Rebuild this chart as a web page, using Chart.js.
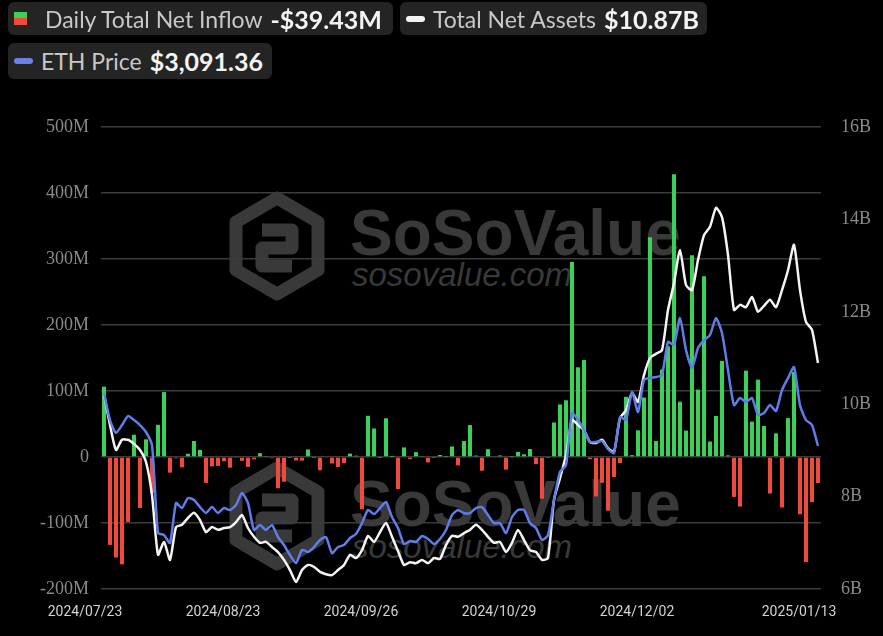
<!DOCTYPE html>
<html>
<head>
<meta charset="utf-8">
<script src="https://cdn.jsdelivr.net/npm/chart.js@4.4.1/dist/chart.umd.min.js"></script>
<style>
  html, body { margin: 0; padding: 0; background: #000; }
  #wrap { position: relative; width: 883px; height: 636px; overflow: hidden; background: #000; font-family: Lato, "Open Sans", sans-serif; }
  #chart { position: absolute; left: 0; top: 0; }
  .pill { position: absolute; background: #242424; border-radius: 6px; display: flex; align-items: center; color: #c8c8c8; font-size: 23px; white-space: nowrap; }
  .pill b { color: #f4f4f4; font-size: 25px; margin-left: 8px; }
  .sq { width: 13px; height: 13px; margin: 0 18px 0 6px; background: linear-gradient(#3ecf5b 50%, #ee4b3f 50%); }
  .ln { width: 19px; height: 6px; border-radius: 3px; margin: 0 8px 0 6px; }
  .wm { position: absolute; color: #393939; white-space: nowrap; }
  .wm1 { font-family: "Liberation Sans", Arial, sans-serif; font-weight: bold; font-size: 64px; }
  .wm2 { font-family: "Liberation Sans", Arial, sans-serif; font-style: italic; font-size: 33px; }
</style>
</head>
<body>
<div id="wrap">
  <!-- watermarks sit under the chart canvas -->
  <svg style="position:absolute;left:0;top:0" width="883" height="636">
    <g fill="none" stroke="#393939" stroke-width="13" stroke-linejoin="round">
      <path d="M277 198 L318 222 L318 270 L277 294 L236 270 L236 222 Z"/>
      <path d="M262 230 L292 230 L292 248 L262 248 L262 266 L292 266"/>
      <path d="M277 468 L318 492 L318 540 L277 564 L236 540 L236 492 Z"/>
      <path d="M262 500 L292 500 L292 518 L262 518 L262 536 L292 536"/>
    </g>
  </svg>
  <div class="wm wm1" style="left:350px;top:196px">SoSoValue</div>
  <div class="wm wm2" style="left:352px;top:256px">sosovalue.com</div>
  <div class="wm wm1" style="left:350px;top:467px">SoSoValue</div>
  <div class="wm wm2" style="left:352px;top:528px">sosovalue.com</div>

  <canvas id="chart" width="883" height="636"></canvas>

  <div class="pill" style="left:8px;top:2px;width:385px;height:33px">
    <span class="sq"></span>Daily Total Net Inflow<b>-$39.43M</b>
  </div>
  <div class="pill" style="left:400px;top:2px;width:307px;height:33px">
    <span class="ln" style="background:#f2f2f2"></span>Total Net Assets<b>$10.87B</b>
  </div>
  <div class="pill" style="left:8px;top:43px;width:264px;height:36px">
    <span class="ln" style="background:#6a82e6"></span>ETH Price<b>$3,091.36</b>
  </div>
</div>

<script>
// trading days shown on the x axis
const dates = [
  "2024/07/23","2024/07/24","2024/07/25","2024/07/26","2024/07/29","2024/07/30","2024/07/31",
  "2024/08/01","2024/08/02","2024/08/05","2024/08/06","2024/08/07","2024/08/08","2024/08/09","2024/08/12","2024/08/13",
  "2024/08/14","2024/08/15","2024/08/16","2024/08/19","2024/08/20","2024/08/21","2024/08/22","2024/08/23","2024/08/26",
  "2024/08/27","2024/08/28","2024/08/29","2024/08/30",
  "2024/09/03","2024/09/04","2024/09/05","2024/09/06","2024/09/09","2024/09/10","2024/09/11","2024/09/12","2024/09/13",
  "2024/09/16","2024/09/17","2024/09/18","2024/09/19","2024/09/20","2024/09/23","2024/09/24","2024/09/25","2024/09/26",
  "2024/09/27","2024/09/30",
  "2024/10/01","2024/10/02","2024/10/03","2024/10/04","2024/10/07","2024/10/08","2024/10/09","2024/10/10","2024/10/11",
  "2024/10/14","2024/10/15","2024/10/16","2024/10/17","2024/10/18","2024/10/21","2024/10/22","2024/10/23","2024/10/24",
  "2024/10/25","2024/10/28","2024/10/29","2024/10/30","2024/10/31",
  "2024/11/01","2024/11/04","2024/11/05","2024/11/06","2024/11/07","2024/11/08","2024/11/11","2024/11/12","2024/11/13",
  "2024/11/14","2024/11/15","2024/11/18","2024/11/19","2024/11/20","2024/11/21","2024/11/22","2024/11/25","2024/11/26",
  "2024/11/27","2024/11/29",
  "2024/12/02","2024/12/03","2024/12/04","2024/12/05","2024/12/06","2024/12/09","2024/12/10","2024/12/11","2024/12/12",
  "2024/12/13","2024/12/16","2024/12/17","2024/12/18","2024/12/19","2024/12/20","2024/12/23","2024/12/24","2024/12/26",
  "2024/12/27","2024/12/30","2024/12/31",
  "2025/01/02","2025/01/03","2025/01/06","2025/01/07","2025/01/08","2025/01/10","2025/01/13"
];
const shownDates = ["2024/07/23", "2024/08/23", "2024/09/26", "2024/10/29", "2024/12/02", "2025/01/13"];

// daily total net inflow, million USD
const netInflow = [
  106.6, -133.2, -152.3, -162.7, -98.3, 33.7, -77.2,
  26.7, -54.3, 48.8, 98.4, -23.7, -2.0, -15.7, 4.9, 24.3, 10.8, -39.2, -14.2, -13.5, -6.5, -16.1, -0.9, -5.8, -15.0,
  -3.5, 5.8, 1.5, -1.8,
  -47.4, -37.5, -0.2, -5.2, -5.5, 11.4, -0.1, -20.1, 1.1, -9.8, -15.1, -9.3, 5.2, 2.0, -79.3, 62.5, 43.2, -0.1, 58.7, 0.1,
  -48.6, 14.5, -3.2, 7.4, 0.9, -8.2, -0.3, 3.0, 0.5, 16.0, -12.7, 24.2, 48.4, 2.1, -20.8, 11.9, 1.1, 2.3, -19.2, 0.5,
  7.6, 4.1, 12.1,
  -10.9, -63.2, -0.4, 52.3, 79.7, 85.9, 295.5, 135.9, 146.9, -3.2, -59.8, -39.1, -81.3, -30.2, -9.2, 91.2, 2.8, 40.4,
  90.1, 332.9,
  24.2, 132.6, 167.7, 428.4, 83.8, 40.0, 305.7, 102.1, 273.7, 23.5, 62.1, 145.7, 2.5, -60.5, -75.1, 130.8, 53.6, 117.2,
  47.0, -55.4, 35.9,
  -76.4, 58.9, 128.7, -86.8, -159.4, -68.4, -39.4
];

// total net assets, billion USD
const totalNetAssets = [
  10.22, 9.55, 9.01, 9.23, 9.23, 9.14, 9.01,
  8.75, 8.03, 6.74, 7.02, 6.63, 7.34, 7.39, 7.54, 7.65, 7.49, 7.23, 7.34, 7.28, 7.32, 7.34, 7.45, 7.60, 7.32,
  7.13, 7.00, 7.02, 6.91,
  6.80, 6.63, 6.41, 6.15, 6.41, 6.52, 6.48, 6.37, 6.32, 6.30, 6.41, 6.52, 6.74, 6.67, 6.84, 7.15, 7.02, 7.23, 7.43, 7.13,
  6.82, 6.52, 6.58, 6.56, 6.63, 6.56, 6.67, 6.65, 6.95, 7.15, 7.13, 7.21, 7.28, 7.39, 7.28, 7.13, 7.00, 7.02, 6.80, 7.00,
  7.28, 7.06, 6.84,
  6.80, 6.63, 6.67, 7.93, 8.40, 8.90, 9.66, 9.55, 9.44, 9.18, 9.16, 9.23, 9.05, 8.97, 9.70, 9.87, 10.24, 10.05,
  10.63, 11.00,
  11.09, 11.17, 12.04, 12.62, 13.34, 12.58, 12.47, 13.12, 13.66, 13.84, 14.25, 14.05, 13.23, 12.04, 12.15, 12.10, 12.32, 12.00,
  12.13, 12.26, 12.10,
  12.47, 12.90, 13.45, 12.47, 11.78, 11.61, 10.89
];

// ETH price, USD
const ethPrice = [
  3468, 3276, 3184, 3240, 3304, 3276, 3240,
  3191, 3098, 2474, 2459, 2403, 2686, 2651, 2722, 2708, 2658, 2616, 2658, 2616, 2651, 2637, 2672, 2758, 2686,
  2495, 2530, 2495, 2530,
  2445, 2388, 2317, 2260, 2353, 2339, 2374, 2424, 2445, 2331, 2374, 2388, 2438, 2466, 2544, 2637, 2608, 2651, 2694, 2587,
  2509, 2395, 2417, 2410, 2452, 2431, 2395, 2431, 2495, 2601, 2637, 2615, 2615, 2651, 2658, 2601, 2544, 2544, 2473, 2587,
  2637, 2637, 2544,
  2509, 2424, 2459, 2708, 2907, 2956, 3326, 3276, 3205, 3120, 3120, 3127, 3070, 3042, 3297, 3276, 3475, 3333,
  3560, 3574,
  3581, 3596, 3830, 3809, 4000, 3773, 3645, 3787, 3844, 3880, 4000, 3894, 3631, 3382, 3432, 3404, 3432, 3312,
  3326, 3382, 3340,
  3489, 3574, 3652, 3382, 3276, 3241, 3091.36
];

const GREEN = "#3ecf5b";
const RED = "#ee4b3f";

const ctx = document.getElementById("chart").getContext("2d");
new Chart(ctx, {
  data: {
    labels: dates,
    datasets: [
      {
        type: "line",
        label: "ETH Price",
        data: ethPrice,
        yAxisID: "yEth",
        borderColor: "#5f7de8",
        borderWidth: 2.5,
        pointRadius: 0,
        tension: 0.2,
        order: 0,
      },
      {
        type: "line",
        label: "Total Net Assets",
        data: totalNetAssets,
        yAxisID: "yAssets",
        borderColor: "#f4f4f4",
        borderWidth: 2.5,
        pointRadius: 0,
        tension: 0.2,
        order: 1,
      },
      {
        type: "bar",
        label: "Daily Total Net Inflow",
        data: netInflow,
        yAxisID: "yFlow",
        backgroundColor: (c) => (c.raw >= 0 ? GREEN : RED),
        categoryPercentage: 1,
        barPercentage: 0.68,
        order: 2,
      },
    ],
  },
  options: {
    responsive: false,
    animation: false,
    devicePixelRatio: 1,
    layout: { padding: { top: 127, left: 0, right: 0, bottom: 0 } },
    plugins: { legend: { display: false }, tooltip: { enabled: false } },
    scales: {
      x: {
        offset: true,
        grid: { display: false },
        border: { display: false },
        ticks: {
          autoSkip: false,
          maxRotation: 0,
          padding: 7,
          labelOffset: -19,
          color: "#d2d2d2",
          font: { family: "Roboto", size: 14 },
          callback: function (v, i) {
            const d = dates[i];
            return shownDates.includes(d) ? d : null;
          },
        },
        afterFit: (s) => { s.height = 47; },
      },
      yFlow: {
        position: "left",
        min: -200,
        max: 500,
        grid: { color: "#3c3c3c", lineWidth: 1.5, drawTicks: false },
        border: { display: false },
        ticks: {
          stepSize: 100,
          padding: 12,
          color: "#8a8a8a",
          font: { family: "Liberation Serif", size: 18 },
          callback: (v) => (v === 0 ? "0" : v + "M"),
        },
        afterFit: (s) => { s.width = 101; },
      },
      yAssets: {
        position: "right",
        min: 6,
        max: 16,
        grid: { display: false },
        border: { display: false },
        ticks: {
          stepSize: 2,
          padding: 12,
          color: "#8a8a8a",
          font: { family: "Liberation Serif", size: 18 },
          callback: (v) => v + "B",
        },
        afterFit: (s) => { s.width = 62; },
      },
      yEth: {
        display: false,
        min: 2076,
        max: 5357,
      },
    },
  },
});
</script>
</body>
</html>
